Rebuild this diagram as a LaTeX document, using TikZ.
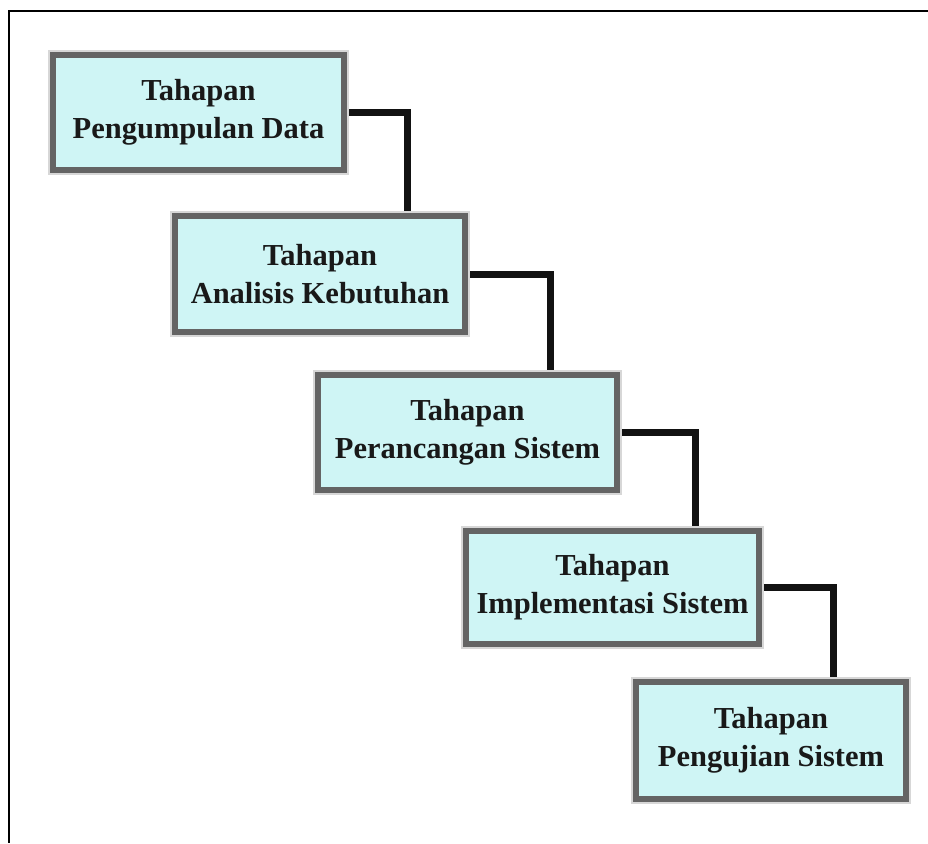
\documentclass[tikz,border=0pt]{standalone}
\usepackage{fontspec}
\setmainfont{Liberation Serif}
\usetikzlibrary{backgrounds}
\definecolor{boxfill}{RGB}{207,245,245}
\definecolor{boxedge}{RGB}{100,100,100}
\definecolor{halo}{RGB}{215,215,215}
\definecolor{conncol}{RGB}{18,18,18}
\definecolor{txt}{RGB}{25,25,25}
\tikzset{
  stage/.style={draw=boxedge, line width=6pt, fill=boxfill, rectangle,
    inner sep=0pt, outer sep=0pt, align=center, text=txt,
    font=\bfseries\fontsize{30.5}{38}\selectfont,
    preaction={draw=halo, line width=10pt}},
  conn/.style={draw=conncol, line width=7pt, line join=miter}
}
\begin{document}
\begin{tikzpicture}[x=1pt,y=-1pt]
\useasboundingbox (0,0) rectangle (928,843);
% frame
\draw[line width=2pt, black] (928,11) -- (9,11) -- (9,843);
% stages
\node[stage, minimum width=291pt, minimum height=115pt] (b1) at (198.5,112.5) {Tahapan\\Pengumpulan Data};
\node[stage, minimum width=290pt, minimum height=116pt] (b2) at (320,274) {Tahapan\\Analisis Kebutuhan};
\node[stage, minimum width=299pt, minimum height=115pt] (b3) at (467.5,432.5) {Tahapan\\Perancangan Sistem};
\node[stage, minimum width=293pt, minimum height=113pt] (b4) at (612.5,587.5) {Tahapan\\Implementasi Sistem};
\node[stage, minimum width=270pt, minimum height=117pt] (b5) at (771,740.5) {Tahapan\\Pengujian Sistem};
% corner x positions
\coordinate (k1) at (407,0);
\coordinate (k2) at (550,0);
\coordinate (k3) at (695,0);
\coordinate (k4) at (833,0);
\begin{scope}[on background layer]
\draw[conn] (b1.east) -| (b2.north -| k1);
\draw[conn] (b2.east) -| (b3.north -| k2);
\draw[conn] (b3.east) -| (b4.north -| k3);
\draw[conn] (b4.east) -| (b5.north -| k4);
\end{scope}
\end{tikzpicture}
\end{document}
